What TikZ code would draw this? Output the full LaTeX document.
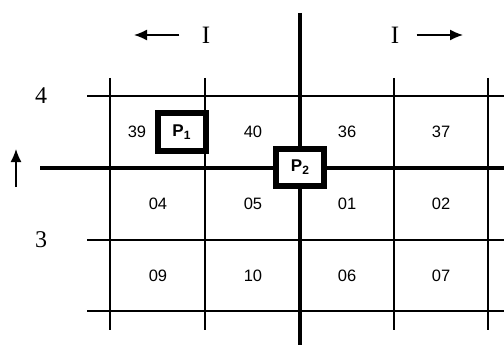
\documentclass[tikz,border=0pt]{standalone}
\usepackage{fontspec}
\setmainfont{Liberation Serif}
\setsansfont{Liberation Sans}
\usetikzlibrary{arrows.meta}
\tikzset{
  cellnum/.style={font=\sffamily\fontsize{16.5}{18}\selectfont},
  rownum/.style={font=\fontsize{24}{26}\selectfont},
  dirlabel/.style={font=\fontsize{25}{28}\selectfont},
  gridthin/.style={line width=2pt},
  gridthick/.style={line width=4pt},
  pbox/.style={draw,fill=white,line width=6pt,minimum width=48pt,minimum height=37pt,
    inner sep=0pt,font=\sffamily\bfseries\fontsize{17}{19}\selectfont},
  dirarrow/.style={-{Latex[length=13pt,width=11pt]},line width=1.4pt},
}
\newcommand{\psub}[1]{\raisebox{-0.4ex}{\fontsize{12}{13}\selectfont #1}}
\begin{document}
\begin{tikzpicture}[x=1pt,y=-1pt]
\useasboundingbox (0,0) rectangle (504,345);
% grid lines
\foreach \x in {110,205,394,488}
  \draw[gridthin] (\x,78) -- (\x,330);
\foreach \y in {96,240,311}
  \draw[gridthin] (87,\y) -- (504,\y);
\draw[gridthick] (40,168) -- (504,168);
\draw[gridthick] (300,13) -- (300,345);
% cell numbers
\node[cellnum] (c39) at (137,132) {39};
\node[cellnum] (c40) at (253,132) {40};
\node[cellnum] (c36) at (347,132) {36};
\node[cellnum] (c37) at (441,132) {37};
\foreach \n/\x in {04/158,05/253,01/347,02/441}
  \node[cellnum] (c\n) at (\x,204) {\n};
\foreach \n/\x in {09/158,10/253,06/347,07/441}
  \node[cellnum] (c\n) at (\x,276) {\n};
% points
\node[pbox] (p1) at (181.5,132) {P\psub{1}};
\node[pbox] (p2) at (300,167) {P\psub{2}};
% row labels
\node[rownum] (r4) at (41,96) {4};
\node[rownum] (r3) at (41,240) {3};
% directions
\node[dirlabel] (il) at (206,35) {I};
\node[dirlabel] (ir) at (395,35) {I};
\coordinate (al) at (134,35);
\coordinate (ar) at (463,35);
\draw[dirarrow] (il.west) ++(-19,0) -- (al);
\draw[dirarrow] (ir.east) ++(14,0) -- (ar);
\coordinate (ub) at (16,187);
\coordinate (ut) at (16,149);
\draw[dirarrow] (ub) -- (ut);
\end{tikzpicture}
\end{document}
